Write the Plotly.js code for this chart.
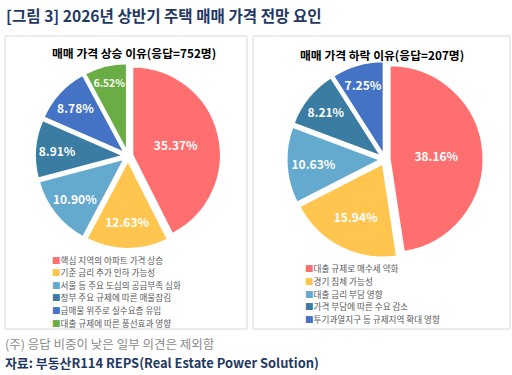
<!DOCTYPE html>
<html>
<head>
<meta charset="utf-8">
<script src="https://cdn.plot.ly/plotly-3.0.1.min.js"></script>
<style>html,body{margin:0;padding:0;background:#fff;}#chart{width:512px;height:375px;}</style>
</head>
<body>
<div id="chart"></div>
<script>
// ---- data ----
const riseLabels = ["핵심 지역의 아파트 가격 상승", "기준 금리 추가 인하 가능성", "서울 등 주요 도심의 공급부족 심화", "정부 주요 규제에 따른 매물잠김", "급매물 위주로 실수요층 유입", "대출 규제에 따른 풍선효과 영향"];
const riseValues = [35.37, 12.63, 10.90, 8.91, 8.78, 6.52];
const fallLabels = ["대출 규제로 매수세 약화", "경기 침체 가능성", "대출 금리 부담 영향", "가격 부담에 따른 수요 감소", "투기과열지구 등 규제지역 확대 영향"];
const fallValues = [38.16, 15.94, 10.63, 8.21, 7.25];
const riseTitle = "매매 가격 상승 이유(응답=752명)";
const fallTitle = "매매 가격 하락 이유(응답=207명)";
const mainTitle = "[그림 3] 2026년 상반기 주택 매매 가격 전망 요인";
const noteText = "(주) 응답 비중이 낮은 일부 의견은 제외함";
const sourceText = "자료: 부동산R114 REPS(Real Estate Power Solution)";

const riseColors = ["#FF6F6F", "#FFC54F", "#64A9CE", "#3A7CA2", "#4472C4", "#6AAD45"];
const fallColors = ["#FF6F6F", "#FFC54F", "#64A9CE", "#3A7CA2", "#4472C4"];

const W = 512, H = 375;
const px = x => x / W;
const py = y => 1 - y / H;
const FONT = "'Noto Sans CJK KR', 'Noto Sans', sans-serif";

function pieTrace(values, labels, colors, x0, x1, y0, y1) {
  return {
    type: 'pie', values: values, labels: labels, sort: false,
    direction: 'clockwise', rotation: 0,
    marker: {colors: colors, line: {color: '#ffffff', width: 2}},
    pull: values.map(() => 0.05),
    textinfo: 'text', text: values.map(v => v.toFixed(2) + '%'),
    textposition: 'inside', insidetextorientation: 'horizontal',
    textfont: {family: FONT, size: 12, color: '#ffffff', weight: 'bold'},
    domain: {x: [px(x0), px(x1)], y: [py(y1), py(y0)]},
    showlegend: false, hoverinfo: 'label+text'
  };
}

const data = [
  pieTrace(riseValues, riseLabels, riseColors, 34, 222, 63, 249),
  pieTrace(fallValues, fallLabels, fallColors, 286, 484, 61, 258)
];

const annotations = [
  {text: '<b>' + mainTitle + '</b>', x: px(4), y: py(15), xanchor: 'left', yanchor: 'middle',
   font: {family: FONT, size: 15.6, color: '#1F3864'}},
  {text: '<b>' + riseTitle + '</b>', x: px(134), y: py(53), xanchor: 'center', yanchor: 'middle',
   font: {family: FONT, size: 11.8, color: '#000000'}},
  {text: '<b>' + fallTitle + '</b>', x: px(382), y: py(54), xanchor: 'center', yanchor: 'middle',
   font: {family: FONT, size: 11.8, color: '#000000'}},
  {text: noteText, x: px(3), y: py(343), xanchor: 'left', yanchor: 'middle',
   font: {family: FONT, size: 12.5, color: '#8C8C8C'}},
  {text: '<b>' + sourceText + '</b>', x: px(3), y: py(362), xanchor: 'left', yanchor: 'middle',
   font: {family: FONT, size: 12.9, color: '#1F3864'}}
];

// legend rows (one annotation per row)
const LEG = 8.6;
riseLabels.forEach((l, i) => annotations.push({
  text: '<span style="color:' + riseColors[i] + '">■</span>' + l,
  x: px(50), y: py(259.5 + i * 12.6), xanchor: 'left', yanchor: 'middle',
  font: {family: FONT, size: LEG, color: '#595959'}
}));
fallLabels.forEach((l, i) => annotations.push({
  text: '<span style="color:' + fallColors[i] + '">■</span>' + l,
  x: px(303), y: py(268 + i * 12.8), xanchor: 'left', yanchor: 'middle',
  font: {family: FONT, size: LEG, color: '#595959'}
}));
annotations.forEach(a => { a.xref = 'paper'; a.yref = 'paper'; a.showarrow = false; });

const shapes = [
  {type: 'rect', xref: 'paper', yref: 'paper', x0: px(5), x1: px(247), y0: py(329), y1: py(36),
   line: {color: '#D9D9D9', width: 1}, fillcolor: 'rgba(0,0,0,0)'},
  {type: 'rect', xref: 'paper', yref: 'paper', x0: px(253), x1: px(510), y0: py(329), y1: py(36),
   line: {color: '#D9D9D9', width: 1}, fillcolor: 'rgba(0,0,0,0)'}
];

const layout = {
  width: W, height: H, margin: {l: 0, r: 0, t: 0, b: 0},
  paper_bgcolor: '#ffffff', plot_bgcolor: '#ffffff',
  font: {family: FONT},
  annotations: annotations, shapes: shapes, showlegend: false
};

Plotly.newPlot('chart', data, layout, {displayModeBar: false, staticPlot: true});
</script>
</body>
</html>
